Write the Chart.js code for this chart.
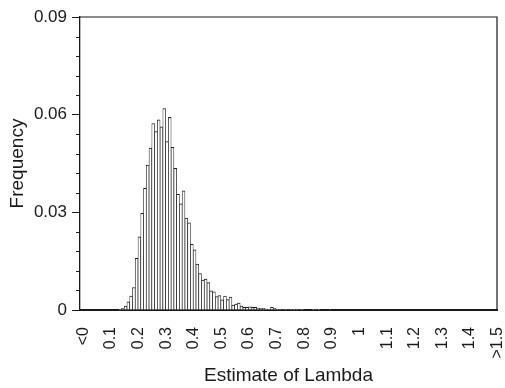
<!DOCTYPE html>
<html>
<head>
<meta charset="utf-8">
<script src="https://cdn.jsdelivr.net/npm/chart.js@4/dist/chart.umd.min.js"></script>
<style>
  html, body { margin: 0; padding: 0; background: #fff; }
  #wrap { width: 505px; height: 388px; }
</style>
</head>
<body>
<div id="wrap"><canvas id="lambdaChart"></canvas></div>
<script>
// tick labels shown under every 10th bin
const X_TICK_LABELS = ['<0', '0.1', '0.2', '0.3', '0.4', '0.5', '0.6', '0.7', '0.8', '0.9',
    '1', '1.1', '1.2', '1.3', '1.4', '>1.5'];
const Y_TICKS = [0, 0.03, 0.06, 0.09];
const Y_MINOR_TICKS = [0.006, 0.012, 0.018, 0.024, 0.036, 0.042, 0.048, 0.054, 0.066, 0.072, 0.078, 0.084];

// frequency per bin: index 0 is "<0", 1..149 are 0.01 wide bins, 150 is ">1.5"
const FREQ = [
    0, 0, 0, 0, 0, 0, 0, 0, 0, 0,
    0, 0, 0, 0, 0.0002, 0.0005, 0.0012, 0.0025, 0.0043, 0.0069,
    0.0159, 0.0225, 0.0297, 0.0374, 0.0445, 0.0497, 0.0573, 0.0548, 0.0584, 0.0563,
    0.0619, 0.0517, 0.0592, 0.0500, 0.0435, 0.0355, 0.0326, 0.0366, 0.0282, 0.0268,
    0.0202, 0.0185, 0.0141, 0.0112, 0.0092, 0.0095, 0.0084, 0.0059, 0.0056, 0.0041,
    0.0044, 0.0031, 0.0043, 0.0032, 0.0040, 0.0015, 0.0018, 0.0021, 0.0012, 0.0008,
    0.0008, 0.0010, 0.0008, 0.0008, 0.0006, 0.0005, 0.0005, 0.0003, 0.0002, 0.0008,
    0.0005, 0.0002, 0.0003, 0.0001, 0.0002, 0.0001, 0.0002, 0.0002, 0.0003, 0.0001,
    0.0002, 0, 0, 0, 0.0002, 0.0001, 0.0002, 0, 0, 0,
    0.0001, 0, 0, 0, 0, 0, 0, 0, 0, 0,
    0, 0, 0, 0, 0, 0, 0, 0, 0, 0,
    0, 0, 0, 0, 0, 0, 0, 0, 0, 0,
    0, 0, 0, 0, 0, 0, 0, 0, 0, 0,
    0, 0, 0, 0, 0, 0, 0, 0, 0, 0,
    0, 0, 0, 0, 0, 0, 0, 0, 0, 0,
    0
];

const BIN_LABELS = FREQ.map((v, i) => {
    if (i === 0) return '<0';
    if (i === FREQ.length - 1) return '>1.5';
    return (i / 100).toFixed(2);
});

const FONT = "'Liberation Sans', Arial, Helvetica, sans-serif";
const INK = '#1a1a1a';

// box on top/right plus short minor ticks on the y axis
const framePlugin = {
    id: 'frame',
    afterDraw(chart) {
        const { ctx, chartArea: a, scales: { y } } = chart;
        ctx.save();
        ctx.strokeStyle = INK;
        ctx.lineWidth = 1.2;
        ctx.beginPath();
        ctx.moveTo(a.left, a.top);
        ctx.lineTo(a.right, a.top);
        ctx.lineTo(a.right, a.bottom);
        ctx.stroke();
        ctx.lineWidth = 1;
        Y_MINOR_TICKS.forEach(v => {
            const py = Math.round(y.getPixelForValue(v)) + 0.5;
            ctx.beginPath();
            ctx.moveTo(a.left - 4, py);
            ctx.lineTo(a.left, py);
            ctx.stroke();
        });
        ctx.restore();
    }
};

new Chart(document.getElementById('lambdaChart'), {
    type: 'bar',
    data: {
        labels: BIN_LABELS,
        datasets: [{
            data: FREQ,
            backgroundColor: '#ffffff',
            borderColor: INK,
            borderWidth: { left: 0.7, right: 0.7, top: 1, bottom: 0 },
            barPercentage: 1,
            categoryPercentage: 1
        }]
    },
    options: {
        responsive: true,
        maintainAspectRatio: false,
        animation: false,
        layout: { padding: { top: 17, right: 8, left: 0, bottom: 0 } },
        plugins: {
            legend: { display: false },
            tooltip: { enabled: false }
        },
        scales: {
            x: {
                grid: { display: true, drawOnChartArea: false, drawTicks: false },
                border: { display: true, color: INK, width: 2 },
                title: {
                    display: true,
                    text: 'Estimate of Lambda',
                    color: INK,
                    font: { family: FONT, size: 19 },
                    padding: { top: 0, bottom: 1 }
                },
                ticks: {
                    autoSkip: false,
                    maxRotation: 90,
                    minRotation: 90,
                    padding: 17,
                    labelOffset: 2,
                    color: INK,
                    font: { family: FONT, size: 16 },
                    callback: (v, i) => (i % 10 === 0 ? X_TICK_LABELS[i / 10] : '')
                },
                afterFit: scale => {
                    scale.height = 78;
                    scale.paddingLeft = 0;
                    scale.paddingRight = 0;
                }
            },
            y: {
                min: 0,
                max: 0.09,
                afterBuildTicks: scale => { scale.ticks = Y_TICKS.map(v => ({ value: v })); },
                grid: { display: true, drawOnChartArea: false, tickLength: 8, tickColor: INK },
                border: { display: true, color: INK, width: 1.3 },
                title: {
                    display: true,
                    text: 'Frequency',
                    color: INK,
                    font: { family: FONT, size: 19 },
                    padding: { top: 6, bottom: 0 }
                },
                ticks: {
                    padding: 5,
                    color: INK,
                    font: { family: FONT, size: 17 },
                    callback: v => (v === 0 ? '0' : v.toFixed(2))
                },
                afterFit: scale => {
                    scale.width = 80;
                    scale.paddingTop = 0;
                    scale.paddingBottom = 0;
                }
            }
        }
    },
    plugins: [framePlugin]
});
</script>
</body>
</html>
